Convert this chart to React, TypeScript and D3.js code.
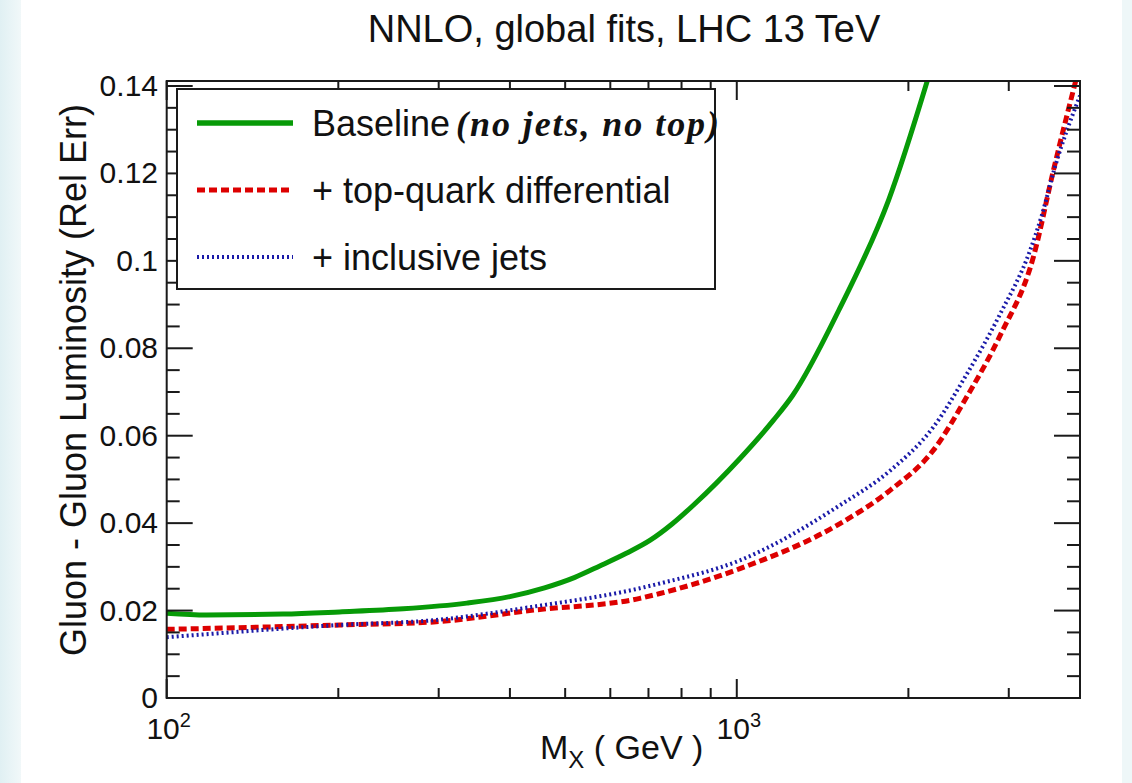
import React from "react";
import * as d3 from "d3";

// Relative uncertainty of the gluon-gluon luminosity vs. invariant mass M_X (GeV)
const baselineMass = [100, 117.5, 160, 201, 260, 336, 400, 460, 520, 575, 640, 705, 770, 839, 1013, 1159, 1253, 1510, 1845, 2250];
const baselineErr = [0.0194, 0.019, 0.0192, 0.0197, 0.0204, 0.0217, 0.0232, 0.0252, 0.0276, 0.0302, 0.0331, 0.0361, 0.0398, 0.0441, 0.0548, 0.0635, 0.0692, 0.0887, 0.1138, 0.149];

const topMass = [100, 201, 294, 440, 676, 733, 1013, 1517, 1857, 2213, 2535, 2899, 3314, 3593, 4000];
const topErr = [0.0157, 0.0167, 0.0174, 0.0201, 0.0228, 0.0239, 0.0296, 0.0399, 0.0475, 0.0567, 0.069, 0.083, 0.1009, 0.1207, 0.145];

const jetsMass = [100, 201, 294, 440, 676, 733, 1013, 1517, 1857, 2213, 2535, 2899, 3270, 3428, 3614, 4000];
const jetsErr = [0.0139, 0.0167, 0.0178, 0.0209, 0.0251, 0.0262, 0.0315, 0.0441, 0.052, 0.062, 0.0742, 0.0879, 0.1024, 0.1104, 0.1214, 0.1378];

const yMajorTicks = [0, 0.02, 0.04, 0.06, 0.08, 0.1, 0.12, 0.14];
const yTickLabels = ["0", "0.02", "0.04", "0.06", "0.08", "0.1", "0.12", "0.14"];
const xDecades = [100, 1000];
const xDecadeExponents = ["2", "3"];
const xMinorTicks = [200, 300, 400, 500, 600, 700, 800, 900, 2000, 3000];

const titleText = "NNLO, global fits, LHC 13 TeV";
const yTitle = "Gluon - Gluon Luminosity (Rel Err)";
const legendLabels = ["Baseline", "+ top-quark differential", "+ inclusive jets"];
const legendNote = "(no jets, no top)";

const SANS = "'Liberation Sans', Arial, Helvetica, sans-serif";
const SERIF = "'Liberation Serif', 'Times New Roman', serif";

export default function App() {
  const W = 1132;
  const H = 783;
  const frame = { left: 166.7, right: 1080, top: 81, bottom: 698 };

  const x = d3.scaleLog().domain([100, 4000]).range([frame.left, frame.right]);
  const y = d3.scaleLinear().domain([0, 0.14114]).range([frame.bottom, frame.top]);

  const mkLine = (curve: any) =>
    d3
      .line<[number, number]>()
      .x((d) => x(d[0]))
      .y((d) => y(d[1]))
      .curve(curve);

  const baselinePath = mkLine(d3.curveMonotoneX)(baselineMass.map((m, i) => [m, baselineErr[i]]));
  const topPath = mkLine(d3.curveMonotoneX)(topMass.map((m, i) => [m, topErr[i]]));
  const jetsPath = mkLine(d3.curveMonotoneX)(jetsMass.map((m, i) => [m, jetsErr[i]]));

  const yMinor = d3
    .range(0, 29)
    .map((i) => +(i * 0.005).toFixed(3))
    .filter((v) => !yMajorTicks.some((t) => Math.abs(t - v) < 1e-9));

  const green = "#079a07";
  const red = "#dd0000";
  const blue = "#1a1aa8";
  const axisColor = "#1a1a1a";

  const styles = [
    { color: green, width: 5, dash: "none" },
    { color: red, width: 5, dash: "8 4" },
    { color: blue, width: 4, dash: "2 3" },
  ];

  const legend = { left: 177, top: 89, right: 715, bottom: 289 };
  const legendRows = [123, 190, 257];

  return (
    <div style={{ position: "fixed", left: 0, top: 0 }}>
      <svg width={W} height={H} style={{ display: "block" }}>
        <defs>
          <linearGradient id="edgeL" x1="0" x2="1" y1="0" y2="0">
            <stop offset="0" stopColor="#e0f0f3" />
            <stop offset="1" stopColor="#f1f8f9" />
          </linearGradient>
          <clipPath id="plotClip">
            <rect x={frame.left} y={frame.top} width={frame.right - frame.left} height={frame.bottom - frame.top} />
          </clipPath>
        </defs>
        <rect x={0} y={0} width={W} height={H} fill="#ffffff" />
        <rect x={0} y={0} width={21} height={H} fill="url(#edgeL)" />
        <rect x={1122} y={0} width={10} height={H} fill="#eef7f8" />

        {/* title */}
        <text x={624} y={42} textAnchor="middle" fontFamily={SANS} fontSize={38} fill="#111">
          {titleText}
        </text>

        {/* curves */}
        <g clipPath="url(#plotClip)" fill="none">
          <path d={topPath ?? ""} stroke={red} strokeWidth={styles[1].width} strokeDasharray={styles[1].dash} />
          <path d={jetsPath ?? ""} stroke={blue} strokeWidth={styles[2].width} strokeDasharray={styles[2].dash} />
          <path d={baselinePath ?? ""} stroke={green} strokeWidth={styles[0].width} />
        </g>

        {/* frame */}
        <rect
          x={frame.left}
          y={frame.top}
          width={frame.right - frame.left}
          height={frame.bottom - frame.top}
          fill="none"
          stroke={axisColor}
          strokeWidth={2}
        />

        {/* ticks on all four sides */}
        <g stroke={axisColor} strokeWidth={2}>
          {yMajorTicks.map((t) => (
            <g key={"ym" + t}>
              <line x1={frame.left} x2={frame.left + 26} y1={y(t)} y2={y(t)} />
              <line x1={frame.right} x2={frame.right - 26} y1={y(t)} y2={y(t)} />
            </g>
          ))}
          {yMinor.map((t) => (
            <g key={"yn" + t}>
              <line x1={frame.left} x2={frame.left + 13} y1={y(t)} y2={y(t)} />
              <line x1={frame.right} x2={frame.right - 13} y1={y(t)} y2={y(t)} />
            </g>
          ))}
          {xDecades.map((t) => (
            <g key={"xm" + t}>
              <line x1={x(t)} x2={x(t)} y1={frame.bottom} y2={frame.bottom - 19} />
              <line x1={x(t)} x2={x(t)} y1={frame.top} y2={frame.top + 19} />
            </g>
          ))}
          {xMinorTicks.map((t) => (
            <g key={"xn" + t}>
              <line x1={x(t)} x2={x(t)} y1={frame.bottom} y2={frame.bottom - 10} />
              <line x1={x(t)} x2={x(t)} y1={frame.top} y2={frame.top + 10} />
            </g>
          ))}
        </g>

        {/* y tick labels */}
        <g fontFamily={SANS} fontSize={30} fill="#111" textAnchor="end">
          {yMajorTicks.map((t, i) => (
            <text key={"yl" + t} x={158} y={y(t) + 10}>
              {yTickLabels[i]}
            </text>
          ))}
        </g>

        {/* x tick labels */}
        <g fontFamily={SANS} fill="#111" textAnchor="middle">
          {xDecades.map((t, i) => (
            <text key={"xl" + t} x={x(t) + 2} y={739} fontSize={30}>
              10
              <tspan fontSize={20} dy={-12}>
                {xDecadeExponents[i]}
              </tspan>
            </text>
          ))}
        </g>

        {/* axis titles */}
        <text x={540} y={759} fontFamily={SANS} fontSize={34} fill="#111">
          M
          <tspan fontSize={24} dy={9}>
            X
          </tspan>
          <tspan dy={-9}>{" ( GeV )"}</tspan>
        </text>
        <text
          transform={`translate(86, ${(95 + 665) / 2}) rotate(-90)`}
          textAnchor="middle"
          fontFamily={SANS}
          fontSize={36}
          fill="#111"
        >
          {yTitle}
        </text>

        {/* legend */}
        <rect
          x={legend.left}
          y={legend.top}
          width={legend.right - legend.left}
          height={legend.bottom - legend.top}
          fill="#ffffff"
          stroke={axisColor}
          strokeWidth={2}
        />
        {legendRows.map((ry, i) => (
          <g key={"lg" + i}>
            <line
              x1={197}
              x2={293}
              y1={ry}
              y2={ry}
              stroke={styles[i].color}
              strokeWidth={i === 0 ? 5.5 : styles[i].width}
              strokeDasharray={styles[i].dash}
            />
            <text x={312} y={ry + 13} fontFamily={SANS} fontSize={36} fill="#111">
              {legendLabels[i]}
            </text>
          </g>
        ))}
        <text
          x={456}
          y={legendRows[0] + 13}
          fontFamily={SERIF}
          fontStyle="italic"
          fontWeight="bold"
          fontSize={36}
          fill="#111"
          textLength={263}
          lengthAdjust="spacing"
        >
          {legendNote}
        </text>
      </svg>
    </div>
  );
}
